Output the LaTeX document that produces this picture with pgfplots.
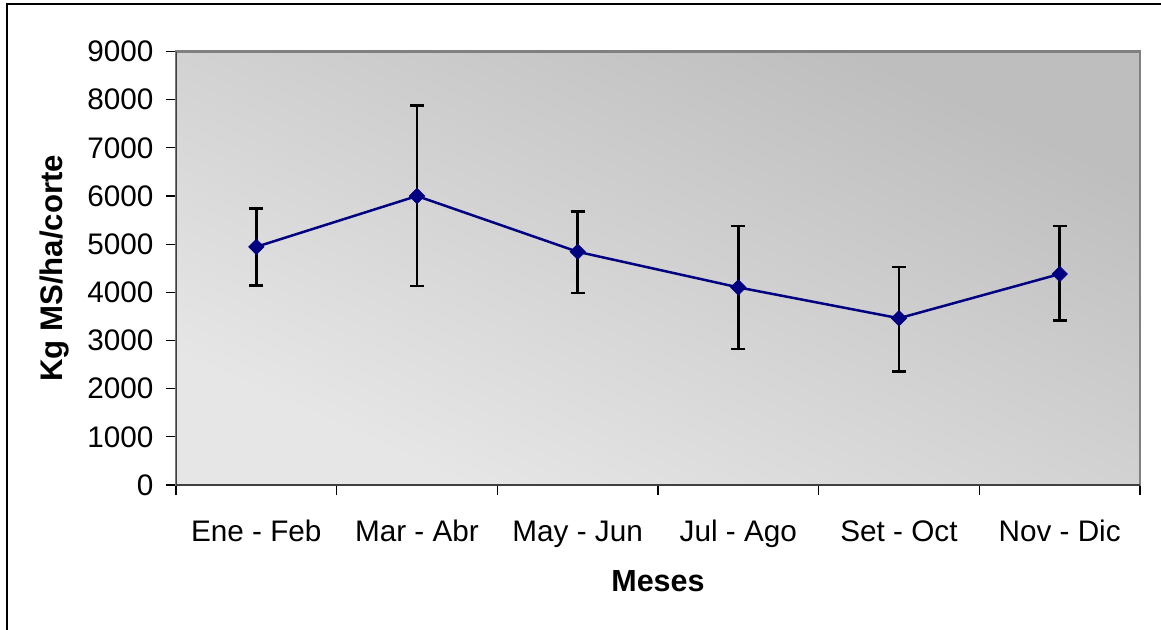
\documentclass[border=0pt]{standalone}
\usepackage{fontspec}
\setmainfont{Liberation Sans}
\usepackage{pgfplots}
\pgfplotsset{compat=1.18}
\usepackage{pgfplotstable}
\pgfplotstableread{
x y ep em
0 4945 793 807
1 6000 1883 1868
2 4842 834 855
3 4103 1270 1275
4 3462 1069 1103
5 4380 993 966
}\datatable
\definecolor{navy}{RGB}{0,0,128}
\definecolor{bgdark}{RGB}{190,190,190}
\definecolor{bglight}{RGB}{230,230,230}
\begin{document}
\begin{tikzpicture}
\useasboundingbox (-176bp,-145bp) rectangle (985bp,485bp);
\draw[line width=1.5bp] (-169bp,-150bp) -- (-169bp,481bp) -- (990bp,481bp);
\begin{scope}[transform canvas={xscale=2.22376}]
\shade[top color=bgdark, bottom color=bglight, shading angle=-45] (0,0) rectangle (433.5bp,433.5bp);
\end{scope}
\begin{axis}[
  scale only axis, width=964bp, height=433.5bp,
  xmin=-0.5, xmax=5.5, ymin=0, ymax=9000,
  ytick={0,1000,...,9000},
  xtick={-0.5,0.5,...,5.5},
  xticklabels={},
  extra x ticks={0,...,5},
  extra x tick labels={Ene - Feb, Mar - Abr, May - Jun, Jul - Ago, Set - Oct, Nov - Dic},
  extra x tick style={major tick length=0pt, xticklabel style={anchor=base, yshift=-56.7bp}},
  tick align=outside, tick pos=left,
  major tick length=10bp,
  every tick/.style={black, line width=1.3bp},
  axis line style={draw=gray, line width=2.5bp},
  /pgf/number format/1000 sep={},
  /pgf/number format/assume math mode=true,
  tick label style={font=\fontsize{29.7bp}{36bp}\selectfont, black},
  yticklabel style={xshift=-9bp},
  label style={font=\bfseries\fontsize{30.5bp}{36bp}\selectfont},
  xlabel={Meses},
  ylabel={Kg MS/ha/corte},
  ylabel style={font=\bfseries\fontsize{31.2bp}{36bp}\selectfont},
  xlabel style={at={(axis description cs:0.5,-0.2461)}, anchor=base},
  ylabel style={at={(axis description cs:-0.118,0.5)}, anchor=base},
]
\addplot[navy, line width=2.5bp, mark=square*, mark size=5.5bp,
  mark options={rotate=45, fill=navy, draw=navy, line width=0.5bp},
  error bars/.cd, y dir=both, y explicit,
  error bar style={black, line width=2.4bp},
  error mark=-,
  error mark options={rotate=90, black, line width=2.4bp, mark size=7bp}]
  table[x=x, y=y, y error plus=ep, y error minus=em] {\datatable};
\draw[black!75, line width=1.3bp] (axis description cs:0,1) -- (axis description cs:0,0) -- (axis description cs:1,0);
\end{axis}
\end{tikzpicture}
\end{document}
